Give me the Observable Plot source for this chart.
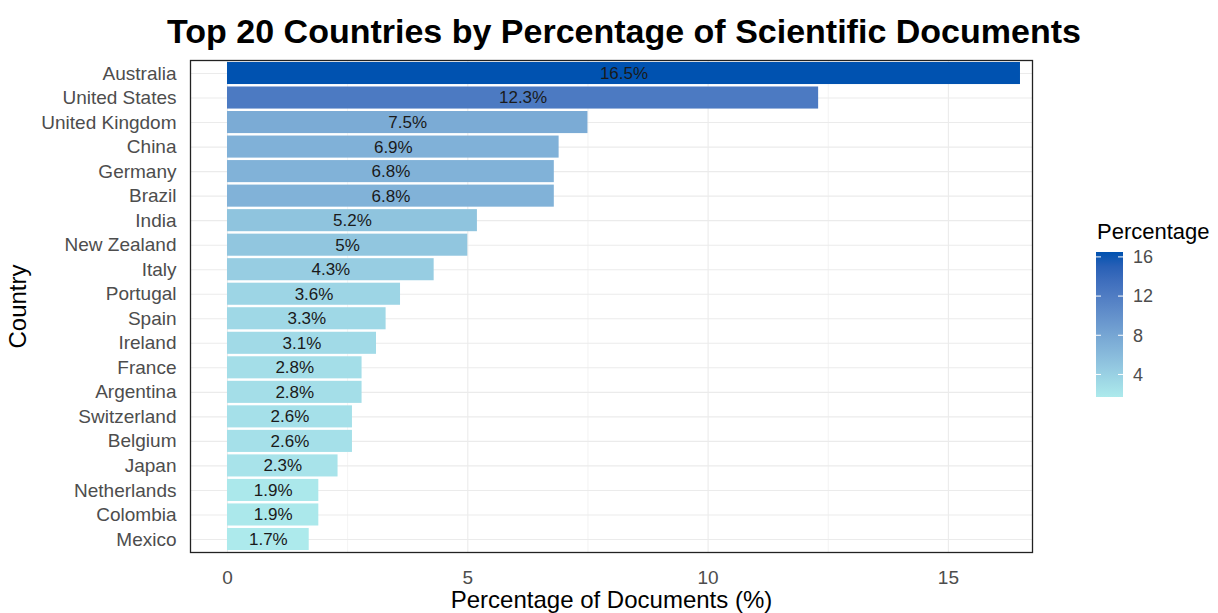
<!DOCTYPE html>
<html>
<head>
<meta charset="utf-8">
<script src="https://cdn.jsdelivr.net/npm/d3@7"></script>
<script src="https://cdn.jsdelivr.net/npm/@observablehq/plot@0.6"></script>
<style>
  html, body { margin: 0; padding: 0; background: #fff; }
  body { width: 1218px; height: 613px; position: relative; overflow: hidden; font-family: "Liberation Sans", Arial, sans-serif; }
  #title { position: absolute; left: 30px; top: 0; width: 1188px; height: 50px; text-align: center; font-weight: bold; font-size: 34px; line-height: 62px; color: #000; white-space: nowrap; }
  #chart { position: absolute; left: 0; top: 50px; }
  #legend { position: absolute; left: 0; top: 0; }
</style>
</head>
<body>
<div id="title">Top 20 Countries by Percentage of Scientific Documents</div>
<div id="chart"></div>
<svg id="legend" width="1218" height="613"></svg>
<script>
const countries = ["Australia","United States","United Kingdom","China","Germany","Brazil","India","New Zealand","Italy","Portugal","Spain","Ireland","France","Argentina","Switzerland","Belgium","Japan","Netherlands","Colombia","Mexico"];
const percentages = [16.5,12.3,7.5,6.9,6.8,6.8,5.2,5.0,4.3,3.6,3.3,3.1,2.8,2.8,2.6,2.6,2.3,1.9,1.9,1.7];
const barLabels = ["16.5%","12.3%","7.5%","6.9%","6.8%","6.8%","5.2%","5%","4.3%","3.6%","3.3%","3.1%","2.8%","2.8%","2.6%","2.6%","2.3%","1.9%","1.9%","1.7%"];
const xTicks = [0, 5, 10, 15];
const xMinorTicks = [2.5, 7.5, 12.5];
const legendTicks = [4, 8, 12, 16];

const data = countries.map((c, i) => ({country: c, value: percentages[i], label: barLabels[i]}));

const lowColor = "#ADEAEC";
const highColor = "#0052B0";

const plot = Plot.plot({
  width: 1218,
  height: 563,
  marginLeft: 190,
  marginRight: 186,
  marginTop: 10,
  marginBottom: 61,
  style: {color: "#4d4d4d", fontFamily: "Liberation Sans, Arial, sans-serif", background: "#fff"},
  x: {domain: [-0.77, 16.75]},
  y: {domain: countries, paddingInner: 0.1, paddingOuter: 0.08, round: false},
  color: {type: "linear", domain: [1.7, 16.5], range: [lowColor, highColor], interpolate: "lab"},
  marks: [
    Plot.gridX({ticks: xMinorTicks, stroke: "#ebebeb", strokeOpacity: 1, strokeWidth: 0.6}),
    Plot.gridX({ticks: xTicks, stroke: "#ebebeb", strokeOpacity: 1, strokeWidth: 1.1}),
    Plot.gridY({stroke: "#ebebeb", strokeOpacity: 1, strokeWidth: 1.1}),
    Plot.barX(data, {x: "value", y: "country", fill: "value"}),
    Plot.text(data, {x: d => d.value / 2, y: "country", text: "label", fontSize: 17, fill: "#1a1a1a"}),
    Plot.frame({stroke: "#222", strokeWidth: 1.3}),
    Plot.axisX({ticks: xTicks, tickSize: 0, tickPadding: 18, fontSize: 19, label: null, color: "#4d4d4d"}),
    Plot.axisY({tickSize: 0, tickPadding: 14, fontSize: 19, label: null, color: "#4d4d4d"}),
    Plot.text(["Percentage of Documents (%)"], {frameAnchor: "bottom", dy: 48, lineAnchor: "middle", fontSize: 24, fill: "#000"}),
    Plot.text(["Country"], {frameAnchor: "left", dx: -172, rotate: -90, lineAnchor: "middle", textAnchor: "middle", fontSize: 24, fill: "#000"})
  ]
});
document.getElementById("chart").appendChild(plot);

// Legend (vertical colourbar) using the plot's colour scale
const colorScale = plot.scale("color");
const leg = d3.select("#legend");
const rampX = 1096, rampW = 27, rampTop = 252, rampBottom = 397;
const [d0, d1] = [1.7, 16.5];
const legScale = d3.scaleLinear().domain([d1, d0]).range([rampTop, rampBottom]);
const defs = leg.append("defs");
const grad = defs.append("linearGradient").attr("id", "lg").attr("x1", 0).attr("y1", 1).attr("x2", 0).attr("y2", 0);
d3.range(0, 11).forEach(i => {
  const v = d0 + (d1 - d0) * i / 10;
  grad.append("stop").attr("offset", `${i * 10}%`).attr("stop-color", colorScale.apply(v));
});
leg.append("rect").attr("x", rampX).attr("y", rampTop).attr("width", rampW).attr("height", rampBottom - rampTop).attr("fill", "url(#lg)");
leg.append("text").attr("x", 1097).attr("y", 239).attr("font-size", 22).attr("fill", "#000").text("Percentage");
legendTicks.forEach(t => {
  const y = legScale(t);
  leg.append("line").attr("x1", rampX).attr("x2", rampX + 5).attr("y1", y).attr("y2", y).attr("stroke", "#fff").attr("stroke-width", 1);
  leg.append("line").attr("x1", rampX + rampW - 5).attr("x2", rampX + rampW).attr("y1", y).attr("y2", y).attr("stroke", "#fff").attr("stroke-width", 1);
  leg.append("text").attr("x", 1133).attr("y", y).attr("dy", "0.35em").attr("font-size", 18).attr("fill", "#4d4d4d").text(t);
});
</script>
</body>
</html>
